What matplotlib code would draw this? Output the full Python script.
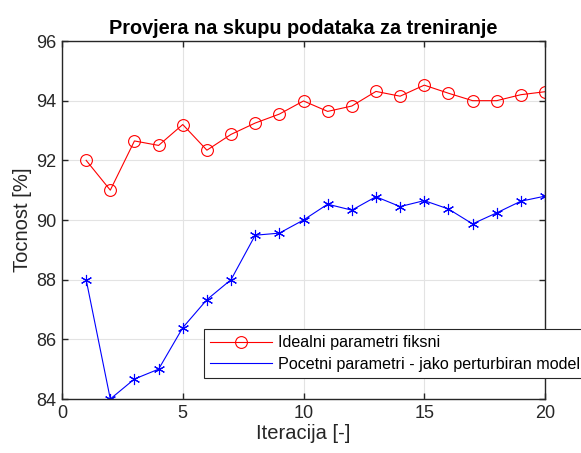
import matplotlib
matplotlib.use("Agg")
import matplotlib.pyplot as plt
from matplotlib.lines import Line2D

plt.rcParams['font.family'] = ['Liberation Sans', 'DejaVu Sans']

iterations = list(range(1, 21))
ideal_fixed = [92.0, 91.0, 92.65, 92.5, 93.2, 92.34, 92.87, 93.25, 93.55, 93.99,
               93.64, 93.82, 94.31, 94.15, 94.52, 94.25, 94.0, 94.0, 94.2, 94.3]
perturbed = [88.0, 84.0, 84.67, 85.0, 86.39, 87.33, 88.0, 89.49, 89.56, 90.0,
             90.53, 90.33, 90.78, 90.45, 90.65, 90.37, 89.87, 90.24, 90.63, 90.8]

title = "Provjera na skupu podataka za treniranje"
xlabel = "Iteracija [-]"
ylabel = "Tocnost [%]"
labels = ["Idealni parametri fiksni", "Pocetni parametri - jako perturbiran model"]
xticks = [0, 5, 10, 15, 20]
yticks = [84, 86, 88, 90, 92, 94, 96]

W, H = 581, 453
fig = plt.figure(figsize=(W / 100, H / 100), dpi=100)
ax = fig.add_axes([62 / W, 1 - 399 / H, (545 - 62) / W, (399 - 41) / H])

axc = '#262626'
l1, = ax.plot(iterations, ideal_fixed, color='red', lw=0.8, marker='o', ms=8.5,
              mfc='none', mec='red', mew=0.8, label=labels[0])
ax.plot(iterations, perturbed, color='blue', lw=0.8, marker=(6, 2, 0), ms=8,
        mec='blue', mew=0.8)
h2 = Line2D([], [], color='blue', lw=0.8)

ax.set_xlim(0, 20)
ax.set_ylim(84, 96)
ax.set_xticks(xticks)
ax.set_yticks(yticks)
ax.grid(True, color='#e3e3e3', lw=0.8)
ax.set_axisbelow(True)
for s in ax.spines.values():
    s.set_color(axc)
    s.set_linewidth(1.0)
ax.tick_params(direction='in', length=4, width=1.0, colors=axc, labelsize=13,
               top=True, right=True, pad=4)
ax.set_title(title, fontsize=14.3, fontweight='bold', color='black', pad=5)
ax.set_xlabel(xlabel, fontsize=14.5, color=axc, labelpad=2)
ax.set_ylabel(ylabel, fontsize=14.5, color=axc, labelpad=3)

leg = ax.legend([l1, h2], labels, loc='upper left',
                bbox_to_anchor=(204 / W, 1 - 329 / H),
                bbox_transform=fig.transFigure, fontsize=11.6, frameon=True,
                fancybox=False, edgecolor=axc, framealpha=1, borderpad=0.4,
                handlelength=3.8, handletextpad=0.4, labelspacing=0.4,
                borderaxespad=0)
leg.get_frame().set_linewidth(0.8)
for t in leg.get_texts():
    t.set_color('black')

fig.savefig("out.png", dpi=100)
